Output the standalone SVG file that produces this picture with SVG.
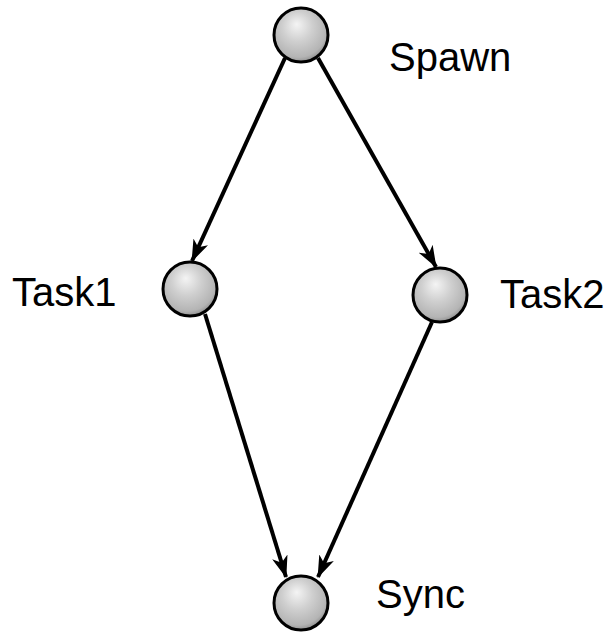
<svg xmlns="http://www.w3.org/2000/svg" width="611" height="633" viewBox="0 0 611 633">
<defs>
<radialGradient id="ball" cx="0.45" cy="0.4" r="0.62" fx="0.42" fy="0.3">
<stop offset="0" stop-color="#f4f4f4"/>
<stop offset="0.45" stop-color="#cfcfcf"/>
<stop offset="0.85" stop-color="#b4b4b4"/>
<stop offset="1" stop-color="#8a8a8a"/>
</radialGradient>
<marker id="arr" viewBox="0 0 22 16" refX="21" refY="8" markerWidth="22" markerHeight="16" markerUnits="userSpaceOnUse" orient="auto">
<path d="M0,0 L22,8 L0,16 L6,8 Z" fill="#000"/>
</marker>
</defs>
<style>
.node circle{fill:url(#ball);stroke:#000;stroke-width:3}
.lbl{font-family:"Liberation Sans",Arial,sans-serif;font-size:40px;fill:#000}
.edge{stroke:#000;stroke-width:4;fill:none;marker-end:url(#arr)}
</style>
<rect width="611" height="633" fill="#fff"/>
<g id="connectors">
<line class="edge" x1="285" y1="58" x2="192" y2="261"/>
<line class="edge" x1="318" y1="58" x2="436" y2="267"/>
<line class="edge" x1="205" y1="314" x2="286" y2="577"/>
<line class="edge" x1="432" y1="322" x2="318" y2="577"/>
</g>
<g id="spawn" class="node"><circle cx="301" cy="35" r="27"/><text class="lbl" x="389" y="71">Spawn</text></g>
<g id="task1" class="node"><circle cx="190" cy="289" r="27"/><text class="lbl" x="12" y="306">Task1</text></g>
<g id="task2" class="node"><circle cx="440" cy="295" r="27"/><text class="lbl" x="500" y="308">Task2</text></g>
<g id="sync" class="node"><circle cx="301" cy="603" r="27"/><text class="lbl" x="376" y="608">Sync</text></g>
</svg>
